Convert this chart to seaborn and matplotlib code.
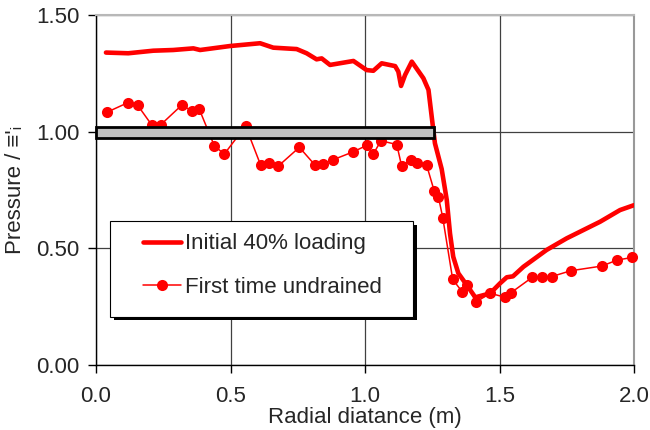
import matplotlib
matplotlib.use("Agg")
import matplotlib.pyplot as plt
from matplotlib.patches import Rectangle
from matplotlib.lines import Line2D
import seaborn as sns
import numpy as np

# ---- data ----
initial_x = [0.037, 0.12, 0.213, 0.287, 0.362, 0.387, 0.498, 0.61, 0.659, 0.746,
             0.783, 0.82, 0.839, 0.87, 0.957, 1.006, 1.031, 1.062, 1.112, 1.124,
             1.134, 1.149, 1.174, 1.217, 1.236, 1.248, 1.26, 1.285, 1.304, 1.316,
             1.328, 1.347, 1.378, 1.41, 1.465, 1.502, 1.527, 1.55, 1.589, 1.675,
             1.75, 1.874, 1.948, 2.0]
initial_y = [1.339, 1.336, 1.347, 1.350, 1.357, 1.350, 1.367, 1.379, 1.360, 1.354,
             1.336, 1.310, 1.314, 1.286, 1.303, 1.264, 1.261, 1.293, 1.281, 1.257,
             1.196, 1.243, 1.300, 1.229, 1.179, 1.064, 0.950, 0.840, 0.707, 0.564,
             0.464, 0.393, 0.343, 0.290, 0.307, 0.350, 0.376, 0.380, 0.421, 0.493,
             0.543, 0.614, 0.664, 0.685]

undrained_x = [0.04, 0.118, 0.155, 0.207, 0.24, 0.319, 0.356, 0.384, 0.44, 0.477,
               0.556, 0.612, 0.643, 0.678, 0.756, 0.814, 0.843, 0.88, 0.957, 1.006,
               1.031, 1.059, 1.118, 1.136, 1.171, 1.192, 1.229, 1.257, 1.273, 1.289,
               1.326, 1.361, 1.379, 1.413, 1.466, 1.519, 1.543, 1.622, 1.659, 1.694,
               1.765, 1.88, 1.938, 1.994]
undrained_y = [1.083, 1.124, 1.113, 1.029, 1.029, 1.114, 1.089, 1.096, 0.939, 0.904,
               1.024, 0.857, 0.867, 0.853, 0.933, 0.857, 0.861, 0.879, 0.914, 0.941,
               0.904, 0.961, 0.945, 0.854, 0.879, 0.866, 0.857, 0.747, 0.720, 0.632,
               0.367, 0.314, 0.343, 0.271, 0.307, 0.291, 0.310, 0.376, 0.379, 0.379,
               0.404, 0.424, 0.450, 0.461]

# grey band (pile / pressure plate region)
band_x = [0.0, 1.255]
band_y = [0.975, 1.022]

series_labels = ["Initial 40% loading", "First time undrained"]
x_ticks = [0.0, 0.5, 1.0, 1.5, 2.0]
y_ticks = [0.0, 0.5, 1.0, 1.5]
x_label = "Radial diatance (m)"
y_label = "Pressure / \u2261'\u1d62"

# ---- style ----
sns.set_style("white")
plt.rcParams['font.family'] = ['Liberation Sans', 'DejaVu Sans']
FS = 16

fig = plt.figure(figsize=(6.5, 4.3), dpi=100)
ax = fig.add_axes([96/650, 1-365/430, (634-96)/650, 350/430])

red = "#ff0000"
sns.lineplot(x=initial_x, y=initial_y, ax=ax, color=red, lw=3.3,
             sort=False, estimator=None, zorder=3,
             solid_joinstyle="round", solid_capstyle="round")
sns.lineplot(x=undrained_x, y=undrained_y, ax=ax, color=red, lw=1.1,
             marker="o", markersize=8, markeredgewidth=0,
             sort=False, estimator=None, zorder=3, clip_on=False)

# grey band on top
ax.add_patch(Rectangle((band_x[0], band_y[0]), band_x[1]-band_x[0], band_y[1]-band_y[0],
                       facecolor="#c0c0c0", edgecolor="black", lw=2.0, zorder=6,
                       clip_on=False))

ax.set_xlim(x_ticks[0], x_ticks[-1])
ax.set_ylim(y_ticks[0], y_ticks[-1])
ax.set_xticks(x_ticks)
ax.set_yticks(y_ticks)
ax.set_xticklabels([f"{v:.1f}" for v in x_ticks])
ax.set_yticklabels([f"{v:.2f}" for v in y_ticks])

ax.grid(True, color="#404040", lw=0.9)
ax.set_axisbelow(True)
for s in ["left", "bottom"]:
    ax.spines[s].set_color("black")
    ax.spines[s].set_linewidth(1.0)
ax.spines["top"].set_color("#b8b8b8")
ax.spines["top"].set_linewidth(1.5)
ax.spines["right"].set_color("#999999")
ax.spines["right"].set_linewidth(1.5)
for s in ax.spines.values():
    s.set_visible(True)

ax.tick_params(axis="both", direction="out", length=6, width=1.0, color="black",
               labelsize=FS, bottom=True, left=True)
ax.tick_params(axis="x", pad=9)
ax.tick_params(axis="y", pad=6)
ax.set_xlabel(x_label, fontsize=FS, labelpad=0)
ax.set_ylabel(y_label, fontsize=FS, labelpad=7)

# legend box with black shadow
bx0, bx1 = (110-96)/538, (413-96)/538
by0, by1 = (365-316.5)/350, (365-221)/350
dx, dy = 3.5/538, 3.5/350
ax.add_patch(Rectangle((bx0+dx, by0-dy), bx1-bx0, by1-by0, transform=ax.transAxes,
                       facecolor="black", edgecolor="none", zorder=7))
ax.add_patch(Rectangle((bx0, by0), bx1-bx0, by1-by0, transform=ax.transAxes,
                       facecolor="white", edgecolor="black", lw=0.8, zorder=8))

handles = [Line2D([], [], color=red, lw=3.3),
           Line2D([], [], color=red, lw=1.1, marker="o", markersize=8, markeredgewidth=0)]
leg = ax.legend(handles, series_labels, loc="upper left",
                bbox_to_anchor=((143-96)/538, (365-233.5)/350),
                frameon=False, fontsize=FS, borderpad=0, borderaxespad=0,
                handlelength=1.7, handletextpad=0.2, labelspacing=1.0)
leg.set_zorder(10)

fig.savefig("out.png", dpi=100)
